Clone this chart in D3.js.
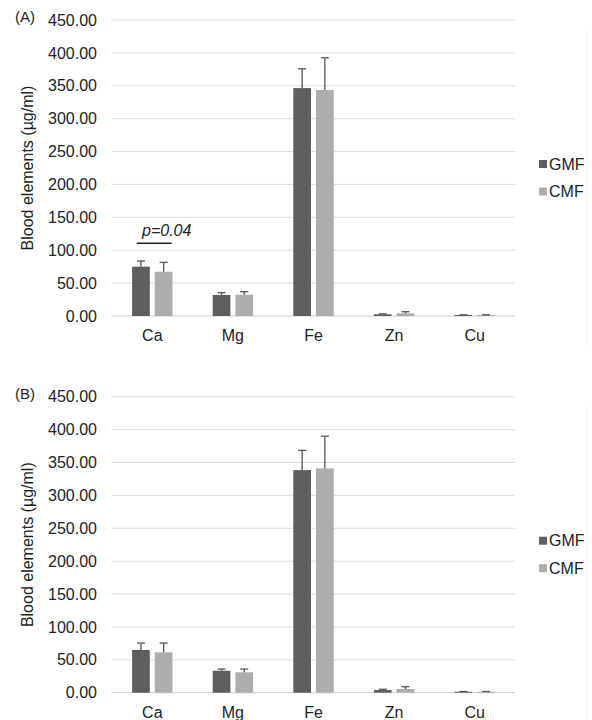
<!DOCTYPE html>
<html>
<head>
<meta charset="utf-8">
<script src="https://cdn.jsdelivr.net/npm/d3@7/dist/d3.min.js"></script>
<style>
  html, body { margin: 0; padding: 0; background: #fff; }
  svg { display: block; font-family: "Liberation Sans", Arial, Helvetica, sans-serif; }
</style>
</head>
<body>
<svg id="chart" width="592" height="720"></svg>
<script>
const categories = ["Ca", "Mg", "Fe", "Zn", "Cu"];
const series = ["GMF", "CMF"];
const yTicks = [0, 50, 100, 150, 200, 250, 300, 350, 400, 450];

// Panel A
const gmfA    = [75.0, 32.0, 346.5, 2.6, 1.5];
const gmfErrA = [8.6, 3.4, 29.3, 0.6, 0.3];
const cmfA    = [67.3, 32.4, 343.5, 4.1, 1.5];
const cmfErrA = [14.3, 4.5, 49.1, 2.4, 0.3];

// Panel B
const gmfB    = [65.0, 33.4, 338.4, 4.1, 1.5];
const gmfErrB = [10.5, 2.6, 30.0, 1.1, 0.3];
const cmfB    = [61.4, 31.0, 341.0, 5.6, 1.5];
const cmfErrB = [14.1, 5.0, 49.0, 3.5, 0.3];

const colors = { GMF: "#5e5e5e", CMF: "#adadad" };

const svg = d3.select("#chart");

function panel(label, top, gmf, gmfErr, cmf, cmfErr, annotate) {
  const g = svg.append("g");
  const plotTop = top, plotBottom = top + 296;
  const x = d3.scaleBand().domain(categories).range([112, 515]);
  const x1 = d3.scaleBand().domain(series).range([20.1, 60.5]).paddingInner(0.22);
  const y = d3.scaleLinear().domain([0, 450]).range([plotBottom, plotTop]);

  // gridlines
  g.append("g").selectAll("line").data(yTicks).join("line")
    .attr("x1", 112).attr("x2", 515)
    .attr("y1", d => y(d)).attr("y2", d => y(d))
    .attr("stroke", d => d === 0 ? "#cfcfcf" : "#dcdcdc").attr("stroke-width", 1);

  // y axis labels
  const yAxis = d3.axisLeft(y).tickValues(yTicks).tickFormat(d3.format(".2f")).tickSize(0).tickPadding(0);
  const ya = g.append("g").attr("transform", "translate(97,0)").call(yAxis);
  ya.select(".domain").remove();
  ya.selectAll("text").attr("font-size", 16).attr("fill", "#222").attr("font-family", "Liberation Sans, Arial, sans-serif");

  // x axis labels
  const xAxis = d3.axisBottom(x).tickSize(0).tickPadding(0);
  const xa = g.append("g").attr("transform", `translate(0,${plotBottom + 14})`).call(xAxis);
  xa.select(".domain").remove();
  xa.selectAll("text").attr("font-size", 16).attr("fill", "#222").attr("font-family", "Liberation Sans, Arial, sans-serif");

  const rows = categories.map((c, i) => ({
    cat: c,
    vals: [
      { s: "GMF", v: gmf[i], e: gmfErr[i] },
      { s: "CMF", v: cmf[i], e: cmfErr[i] }
    ]
  }));

  const grp = g.append("g").selectAll("g").data(rows).join("g")
    .attr("transform", d => `translate(${x(d.cat)},0)`);

  grp.selectAll("rect").data(d => d.vals).join("rect")
    .attr("x", d => x1(d.s)).attr("width", x1.bandwidth())
    .attr("y", d => y(d.v)).attr("height", d => y(0) - y(d.v))
    .attr("fill", d => colors[d.s]);

  // error bars
  const eb = grp.selectAll("g.eb").data(d => d.vals).join("g").attr("class", "eb");
  eb.append("line")
    .attr("x1", d => x1(d.s) + x1.bandwidth() / 2).attr("x2", d => x1(d.s) + x1.bandwidth() / 2)
    .attr("y1", d => y(d.v)).attr("y2", d => y(d.v + d.e))
    .attr("stroke", "#555").attr("stroke-width", 1.3);
  eb.append("line")
    .attr("x1", d => x1(d.s) + x1.bandwidth() / 2 - 4).attr("x2", d => x1(d.s) + x1.bandwidth() / 2 + 4)
    .attr("y1", d => y(d.v + d.e)).attr("y2", d => y(d.v + d.e))
    .attr("stroke", "#555").attr("stroke-width", 1.3);

  // panel label
  g.append("text").attr("x", 15).attr("y", plotTop + 2)
    .attr("font-size", 15).attr("fill", "#222").text(label);

  // y title
  g.append("text")
    .attr("transform", `translate(27,${(plotTop + plotBottom) / 2}) rotate(-90)`)
    .attr("text-anchor", "middle").attr("dy", "0.35em")
    .attr("font-size", 16).attr("fill", "#222").text("Blood elements (\u00b5g/ml)");

  // legend
  const lg = g.append("g").selectAll("g").data(series).join("g")
    .attr("transform", (d, i) => `translate(539,${plotTop + 144 + i * 27.5})`);
  lg.append("rect").attr("x", 0).attr("y", -4).attr("width", 8).attr("height", 8)
    .attr("fill", d => colors[d]);
  lg.append("text").attr("x", 10).attr("dy", "0.35em").attr("font-size", 16)
    .attr("fill", "#222").text(d => d);

  // faint right border
  g.append("line").attr("x1", 587).attr("x2", 587).attr("y1", plotTop + 10).attr("y2", plotBottom + 30)
    .attr("stroke", "#f0f0f0").attr("stroke-width", 1);

  if (annotate) {
    const cx = x("Ca");
    g.append("text").attr("x", cx + 30).attr("y", y(121.6))
      .attr("font-size", 16).attr("font-style", "italic").attr("fill", "#222").text("p=0.04");
    g.append("line").attr("x1", cx + 24.7).attr("x2", cx + 59.7)
      .attr("y1", y(110.5)).attr("y2", y(110.5))
      .attr("stroke", "#222").attr("stroke-width", 1.4);
  }
}

panel("(A)", 20, gmfA, gmfErrA, cmfA, cmfErrA, true);
panel("(B)", 396.7, gmfB, gmfErrB, cmfB, cmfErrB, false);
</script>
</body>
</html>
